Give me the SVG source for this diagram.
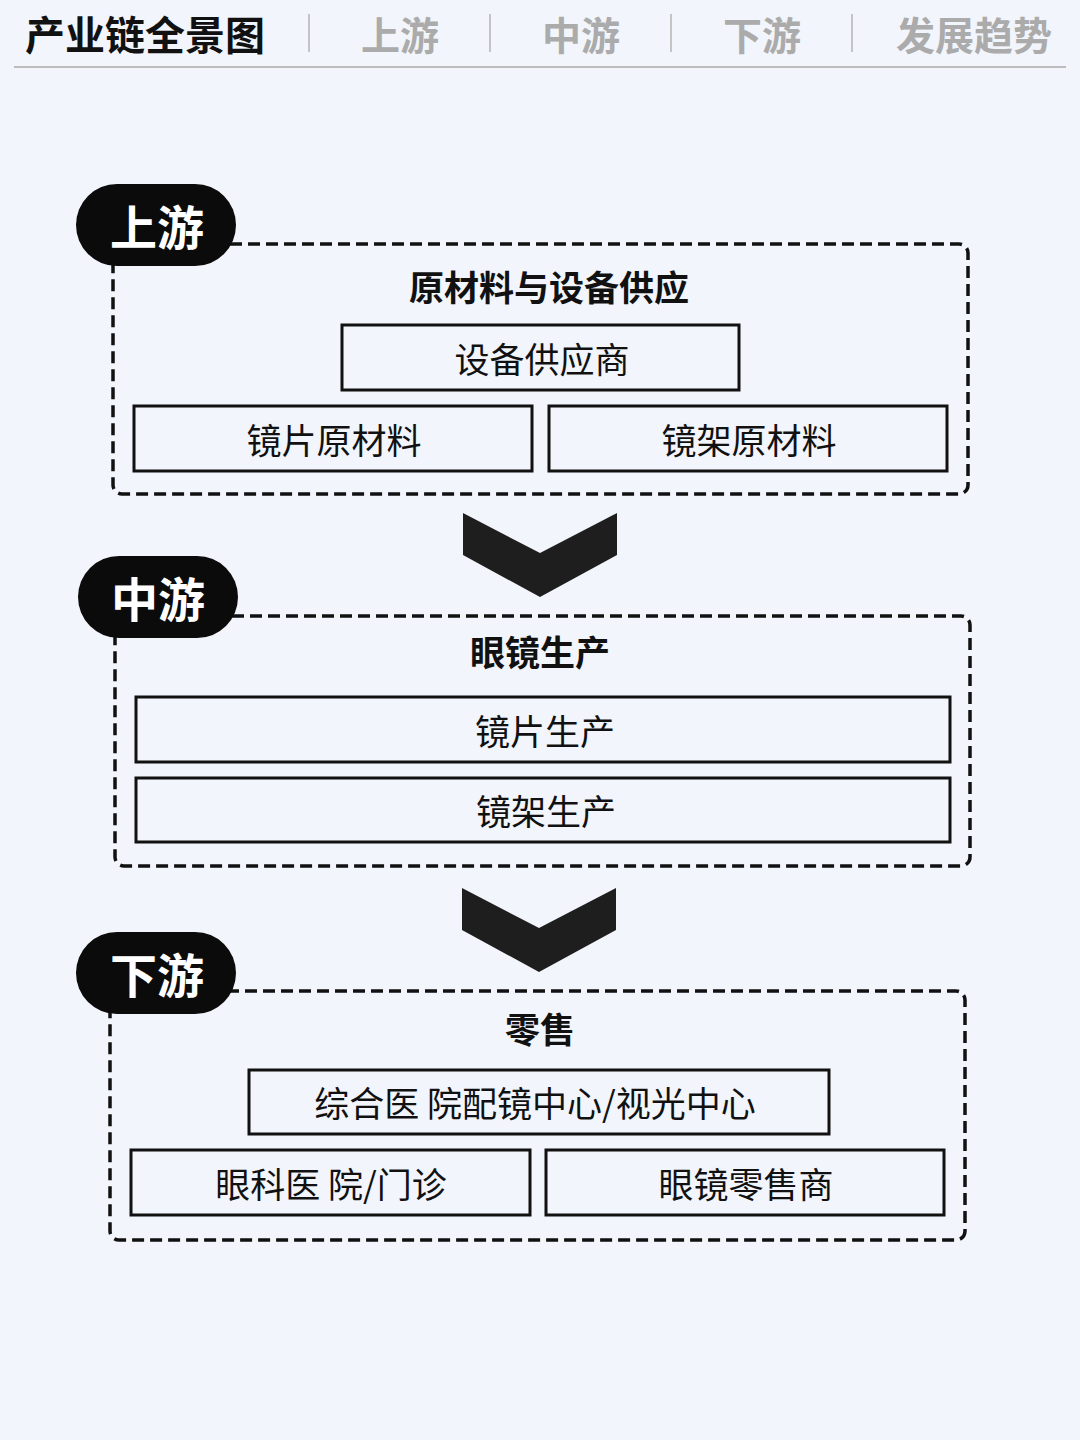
<svg xmlns="http://www.w3.org/2000/svg" width="1080" height="1440" viewBox="0 0 1080 1440">
<style>
text{font-family:"Noto Sans CJK SC","Noto Sans",sans-serif;dominant-baseline:central;text-anchor:middle}
.hd{font-size:40px;font-weight:700;fill:#111}
.tab{font-size:39px;font-weight:700;fill:#ababab}
.pill{fill:#0b0b0b}
.pt{font-size:47px;font-weight:700;fill:#fff}
.grp{fill:none;stroke:#111;stroke-width:3.5;stroke-dasharray:12 6}
.ttl{font-size:35px;font-weight:700;fill:#111}
.box{fill:none;stroke:#111;stroke-width:3}
.bt{font-size:35px;fill:#111}
.chev{fill:#1e1e1e}
</style>
<rect width="1080" height="1440" fill="#f2f5fb"/>
<g id="header">
<text class="hd" x="145" y="33">产业链全景图</text>
<g stroke="#c4c4c4" stroke-width="2"><line x1="309" y1="14" x2="309" y2="52"/><line x1="490" y1="14" x2="490" y2="52"/><line x1="671" y1="14" x2="671" y2="52"/><line x1="852" y1="14" x2="852" y2="52"/></g>
<text class="tab" x="400" y="33">上游</text>
<text class="tab" x="581" y="33">中游</text>
<text class="tab" x="762" y="33">下游</text>
<text class="tab" x="974" y="33">发展趋势</text>
<line x1="14" y1="67" x2="1066" y2="67" stroke="#bdbdbd" stroke-width="2"/>
</g>
<g id="upstream">
<rect class="grp" x="113" y="244" width="855" height="250" rx="9"/>
<rect class="pill" x="76" y="184" width="160" height="82" rx="41"/>
<text class="pt" x="157" y="224">上游</text>
<text class="ttl" x="549" y="285">原材料与设备供应</text>
<g id="u1"><rect class="box" x="342" y="325" width="397" height="65"/><text class="bt" x="542" y="357">设备供应商</text></g>
<g id="u2"><rect class="box" x="134" y="406" width="398" height="65"/><text class="bt" x="334" y="438">镜片原材料</text></g>
<g id="u3"><rect class="box" x="549" y="406" width="398" height="65"/><text class="bt" x="749" y="438">镜架原材料</text></g>
</g>
<g id="midstream">
<rect class="grp" x="115" y="616" width="855" height="250" rx="9"/>
<rect class="pill" x="78" y="556" width="160" height="82" rx="41"/>
<text class="pt" x="158" y="596">中游</text>
<text class="ttl" x="540" y="650">眼镜生产</text>
<g id="m1"><rect class="box" x="136" y="697" width="814" height="65"/><text class="bt" x="545" y="729">镜片生产</text></g>
<g id="m2"><rect class="box" x="136" y="778" width="814" height="64"/><text class="bt" x="546" y="809">镜架生产</text></g>
</g>
<g id="downstream">
<rect class="grp" x="110" y="991" width="855" height="249" rx="9"/>
<rect class="pill" x="76" y="932" width="160" height="82" rx="41"/>
<text class="pt" x="157" y="972">下游</text>
<text class="ttl" x="540" y="1027">零售</text>
<g id="d1"><rect class="box" x="249" y="1070" width="580" height="64"/><text class="bt" x="535" y="1101">综合医 院配镜中心/视光中心</text></g>
<g id="d2"><rect class="box" x="131" y="1150" width="399" height="65"/><text class="bt" x="331" y="1182">眼科医 院/门诊</text></g>
<g id="d3"><rect class="box" x="546" y="1150" width="398" height="65"/><text class="bt" x="746" y="1182">眼镜零售商</text></g>
</g>
<g id="connectors">
<polygon class="chev" points="463,513 540,553 617,513 617,555 540,597 463,555"/>
<polygon class="chev" points="462,888 539,928 616,888 616,930 539,972 462,930"/>
</g>
</svg>
